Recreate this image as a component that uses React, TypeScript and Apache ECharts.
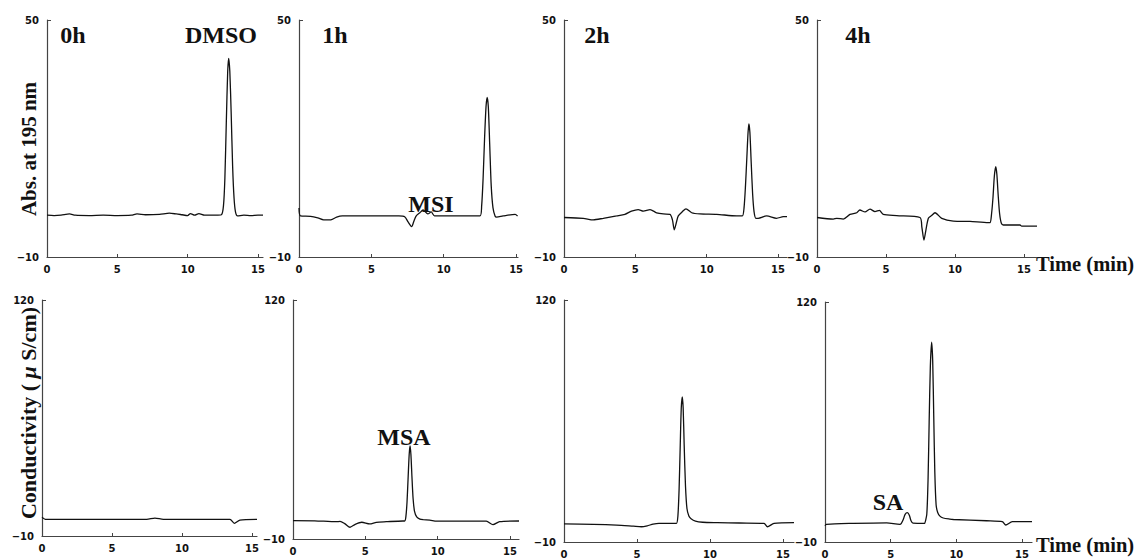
import React, { useEffect, useRef } from "react";
import * as echarts from "echarts";

// ---------- tick labels ----------
const X_TICKS = [0, 5, 10, 15];
const ABS_TICKS = [-10, 50];
const COND_TICKS = [-10, 120];

// ---------- UV absorbance at 195 nm, [time (min), value] ----------
const abs0h: number[][] = [
  [0, 0.6], [0.5, 0.5], [1, 0.6], [1.6, 0.9], [2, 0.6], [3, 0.5], [4, 0.6], [5, 0.5], [6, 0.6],
  [6.4, 0.9], [7, 0.7], [8, 0.8], [8.7, 1.1], [9.2, 0.9], [9.6, 0.7], [10, 0.5], [10.2, 1.0],
  [10.5, 0.6], [10.8, 1.0], [11.2, 0.6], [12, 0.6], [12.4, 0.7], [12.55, 3], [12.65, 10],
  [12.75, 24], [12.85, 37], [12.92, 40.3], [13.0, 37], [13.1, 26], [13.2, 13], [13.3, 5],
  [13.4, 1.5], [13.55, 0.4], [14, 0.6], [14.5, 0.5], [15, 0.6], [15.36, 0.6],
];
const abs1h: number[][] = [
  [0, 2.4], [0.1, 0.4], [0.8, 0.3], [1.3, -0.1], [1.7, -0.6], [2.2, -0.6], [2.6, 0.1],
  [3.0, 0.4], [4, 0.4], [6, 0.4], [6.9, 0.4], [7.3, 0.2], [7.55, -1.2], [7.78, -2.3],
  [7.95, -0.8], [8.1, 0.4], [8.35, 1.2], [8.57, 1.9], [8.9, 0.9], [9.13, 1.4], [9.36, 0.4],
  [10.5, 0.4], [12.5, 0.4], [12.62, 3], [12.72, 10], [12.82, 20], [12.92, 28], [13.0, 30.4],
  [13.08, 28], [13.18, 18], [13.28, 8], [13.4, 2.5], [13.55, 0.3], [13.65, 0.1], [14.1, 0.4],
  [14.93, 0.8], [15.1, 0.4],
];
const abs2h: number[][] = [
  [0, 0.0], [1.35, -0.2], [2.05, -0.6], [2.75, -0.2], [3.69, 0.4], [4.27, 0.8], [4.73, 1.6],
  [5.2, 2.0], [5.56, 1.6], [6.03, 2.0], [6.49, 1.2], [6.96, 0.9], [7.43, 0.8], [7.6, -0.6],
  [7.73, -3.1], [7.88, -1.2], [8.01, 0.4], [8.3, 1.5], [8.55, 2.2], [8.95, 1.2], [9.53, 0.9],
  [10.7, 0.8], [12.1, 0.4], [12.5, 0.4], [12.62, 2.5], [12.72, 8], [12.82, 15.5], [12.9, 21.5],
  [12.96, 23.7], [13.03, 21.5], [13.12, 14], [13.22, 6], [13.32, 1.5], [13.45, -0.2],
  [13.61, -0.2], [14.2, 0.4], [14.9, -0.2], [15.37, 0.2], [15.63, 0.2],
];
const abs4h: number[][] = [
  [0, 0.0], [1.18, -0.4], [1.43, -0.2], [1.9, -0.4], [2.39, 0.8], [2.88, 1.2], [3.1, 1.9],
  [3.48, 1.4], [3.84, 2.1], [4.2, 1.5], [4.52, 1.8], [4.8, 0.8], [5.77, 0.5], [7.46, 0.0],
  [7.6, -2.5], [7.75, -5.7], [7.9, -3.0], [8.07, -0.2], [8.3, 0.5], [8.55, 1.2], [9.04, -0.2],
  [9.88, -0.9], [11.09, -1.0], [12.41, -1.3], [12.55, -1.3], [12.65, 1], [12.75, 5],
  [12.85, 10.5], [12.95, 12.9], [13.03, 11], [13.13, 5.5], [13.23, 1], [13.35, -1.4],
  [13.5, -1.9], [14.71, -1.9], [14.83, -2.2], [15.94, -2.2],
];

// ---------- conductivity (µS/cm), [time (min), value] ----------
const cond0h: number[][] = [
  [0, 0.3], [0.24, -0.8], [2, -0.8], [4, -0.8], [6, -0.8], [7.48, -0.8], [8.07, -0.1],
  [8.67, -0.8], [10, -0.8], [12, -0.8], [13.43, -0.8], [13.74, -3.0], [14.14, -1.2],
  [15.36, -0.8],
];
const cond1h: number[][] = [
  [0, 0.0], [1.5, -0.1], [3.0, -0.6], [3.25, -0.4], [3.6, -1.8], [3.94, -3.6], [4.3, -2.0],
  [4.75, -0.9], [5.3, -1.8], [5.76, -0.9], [6.45, -0.6], [7.6, -0.2], [7.72, -0.2], [7.8, 2],
  [7.88, 10], [7.96, 24], [8.03, 36], [8.09, 40.6], [8.15, 36], [8.22, 24], [8.3, 12],
  [8.4, 5], [8.55, 2], [8.77, 0.8], [9.0, 0.5], [9.46, 0.3], [9.92, -0.3], [11.5, -0.3],
  [13.36, -0.3], [13.82, -2.2], [14.28, -0.6], [15.62, -0.2],
];
const cond2h: number[][] = [
  [0, -0.3], [2, -0.5], [3.6, -0.9], [4.75, -1.5], [5.3, -1.8], [5.7, -1.3], [6.1, -0.4],
  [6.5, 0.0], [7.6, 0.0], [7.7, 0.0], [7.8, 4], [7.88, 18], [7.96, 42], [8.03, 62], [8.1, 68],
  [8.16, 62], [8.23, 42], [8.32, 20], [8.42, 8], [8.55, 4], [8.7, 2.5], [9.0, 1.2], [9.5, 0.6],
  [10.5, 0.4], [12, 0.2], [13.7, 0.0], [13.93, -1.8], [14.38, 0.0], [15.75, 0.4],
];
const cond4h: number[][] = [
  [0, -1.2], [0.1, -0.4], [2.16, 0.1], [4.7, 0.4], [5.7, -0.4], [5.8, 0.0], [5.95, 2],
  [6.1, 5], [6.27, 5.9], [6.42, 4.5], [6.55, 1.5], [6.7, 0.2], [7.6, 0.1], [7.65, 0.2],
  [7.75, 5], [7.85, 25], [7.93, 55], [8.02, 85], [8.12, 98.2], [8.2, 88], [8.28, 58],
  [8.36, 28], [8.46, 10], [8.58, 6], [8.75, 4], [9.0, 3], [9.5, 2.4], [9.78, 2.2],
  [12.3, 1.5], [13.5, 1.0], [13.76, -0.8], [14.26, 1.0], [15.76, 1.0],
];

const TRACES = [abs0h, abs1h, abs2h, abs4h, cond0h, cond1h, cond2h, cond4h];

// ---------- panel layout (pixels) ----------
const LAYOUT = [
  { left: 47, top: 20, width: 216, height: 237, xMax: 15.36 },
  { left: 299, top: 20, width: 219, height: 237, xMax: 15.13 },
  { left: 564, top: 20, width: 223, height: 237, xMax: 15.63 },
  { left: 817, top: 20, width: 220, height: 237, xMax: 15.94 },
  { left: 42, top: 300, width: 215, height: 236, xMax: 15.36 },
  { left: 293, top: 300, width: 226, height: 239, xMax: 15.62 },
  { left: 564, top: 300, width: 230, height: 242, xMax: 15.75 },
  { left: 825, top: 302, width: 207, height: 240, xMax: 15.76 },
];

const SERIF = '"Liberation Serif", "Times New Roman", serif';
const TICK_FONT = '"DejaVu Sans", Arial, sans-serif';
const INK = "#111";
const AXIS = "#444";

const fmt = (v: number) => (v < 0 ? "\u2212" + Math.abs(v) : String(v));

export default function App() {
  const ref = useRef<HTMLDivElement>(null);

  useEffect(() => {
    if (!ref.current) return;
    const chart = echarts.init(ref.current, undefined, { renderer: "svg" });

    const grid = LAYOUT.map((g) => ({
      left: g.left,
      top: g.top,
      width: g.width,
      height: g.height,
      containLabel: false,
      outerBoundsMode: "none",
    }));

    const xAxis = LAYOUT.map((g, i) => ({
      type: "value",
      gridIndex: i,
      min: 0,
      max: g.xMax,
      interval: 5,
      splitLine: { show: false },
      axisLine: { show: true, onZero: false, lineStyle: { color: AXIS, width: 1.2 } },
      axisTick: {
        show: true,
        inside: true,
        length: 3,
        lineStyle: { color: AXIS, width: 1 },
        customValues: X_TICKS,
      },
      axisLabel: {
        customValues: X_TICKS,
        formatter: fmt,
        color: INK,
        fontFamily: TICK_FONT,
        fontWeight: "bold",
        fontSize: 10,
        margin: 7,
      },
    }));

    const yAxis = LAYOUT.map((_, i) => {
      const ticks = i < 4 ? ABS_TICKS : COND_TICKS;
      return {
        type: "value",
        gridIndex: i,
        min: ticks[0],
        max: ticks[1],
        interval: ticks[1] - ticks[0],
        splitLine: { show: false },
        axisLine: { show: true, onZero: false, lineStyle: { color: AXIS, width: 1.2 } },
        axisTick: {
          show: true,
          inside: true,
          length: 4,
          lineStyle: { color: AXIS, width: 1 },
          customValues: ticks,
        },
        axisLabel: {
          customValues: ticks,
          formatter: fmt,
          color: INK,
          fontFamily: TICK_FONT,
          fontWeight: "bold",
          fontSize: 10,
          margin: 8,
        },
      };
    });

    const series = TRACES.map((data, i) => ({
      type: "line",
      xAxisIndex: i,
      yAxisIndex: i,
      data,
      showSymbol: false,
      symbol: "none",
      smooth: 0.25,
      lineStyle: { color: INK, width: 1.3 },
      silent: true,
    }));

    const label = (text: string, x: number, y: number, size = 24, align = "center") => ({
      type: "text",
      x,
      y,
      silent: true,
      style: {
        text,
        fill: INK,
        font: `bold ${size}px ${SERIF}`,
        align,
        verticalAlign: "middle",
        textAlign: align,
        textVerticalAlign: "middle",
      },
    });

    const graphic = [
      label("0h", 73, 35),
      label("DMSO", 221, 35),
      label("1h", 335, 35),
      label("MSI", 431, 204),
      label("2h", 597, 35),
      label("4h", 858, 35),
      label("MSA", 404, 437),
      label("SA", 888, 502),
      label("Time (min)", 1036, 264, 20.5, "left"),
      label("Time (min)", 1036, 545, 20.5, "left"),
      {
        type: "text",
        x: 29,
        y: 149,
        rotation: Math.PI / 2,
        silent: true,
        style: {
          text: "Abs. at 195 nm",
          fill: INK,
          font: `bold 21px ${SERIF}`,
          align: "center",
          verticalAlign: "middle",
          textAlign: "center",
          textVerticalAlign: "middle",
        },
      },
      {
        type: "text",
        x: 28,
        y: 413,
        rotation: Math.PI / 2,
        silent: true,
        style: {
          text: "Conductivity ( {i|\u03bc} S/cm)",
          fill: INK,
          font: `bold 22px ${SERIF}`,
          align: "center",
          verticalAlign: "middle",
          textAlign: "center",
          textVerticalAlign: "middle",
          rich: {
            i: {
              fontStyle: "italic",
              fontWeight: "bold",
              fontSize: 22,
              fontFamily: SERIF,
              fill: INK,
            },
          },
        },
      },
    ];

    chart.setOption({
      animation: false,
      backgroundColor: "#ffffff",
      grid,
      xAxis,
      yAxis,
      series,
      graphic,
    });

    return () => chart.dispose();
  }, []);

  return (
    <div
      ref={ref}
      style={{ position: "absolute", left: 0, top: 0, width: 1140, height: 558, background: "#fff" }}
    />
  );
}
